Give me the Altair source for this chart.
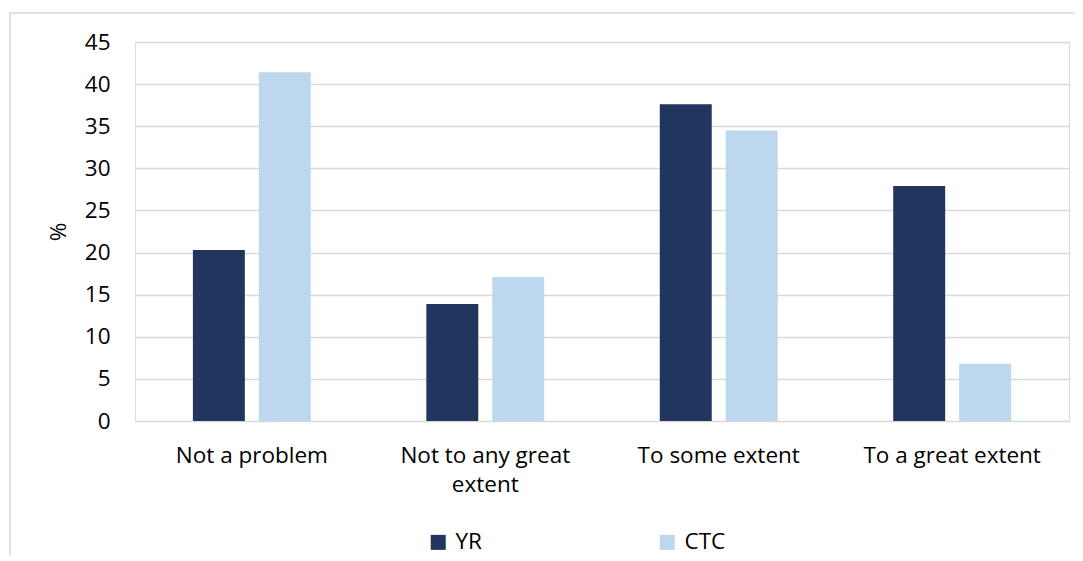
import altair as alt
import pandas as pd

categories = ["Not a problem", "Not to any great extent", "To some extent", "To a great extent"]
series = ["YR", "CTC"]
yr_values = [20.3, 13.9, 37.6, 27.9]
ctc_values = [41.4, 17.1, 34.5, 6.8]
colors = ["#22355E", "#BDD7EE"]
y_ticks = [0, 5, 10, 15, 20, 25, 30, 35, 40, 45]

rows = []
for c, a, b in zip(categories, yr_values, ctc_values):
    rows.append({"cat": c, "series": "YR", "value": a})
    rows.append({"cat": c, "series": "CTC", "value": b})
df = pd.DataFrame(rows)

FONT = "Open Sans"
FS = 22.5
W, H = 934, 379

bars = alt.Chart(df).mark_bar().encode(
    x=alt.X("cat:N", sort=categories, title=None,
            scale=alt.Scale(paddingInner=0.495, paddingOuter=0.248),
            axis=alt.Axis(labelAngle=0, labelFontSize=FS, labelColor="#000000", labelFont=FONT,
                          labelPadding=23, ticks=False, domain=False, labelLimit=300,
                          labelLineHeight=29,
                          labelExpr="datum.label == 'Not to any great extent' ? ['Not to any great', 'extent'] : datum.label")),
    xOffset=alt.XOffset("series:N", sort=series, scale=alt.Scale(paddingInner=0.212, paddingOuter=0)),
    y=alt.Y("value:Q", title="%", scale=alt.Scale(domain=[0, 45], nice=False),
            axis=alt.Axis(values=y_ticks, labelFontSize=FS, labelColor="#000000", labelFont=FONT,
                          labelPadding=25, ticks=False, domain=False, grid=True,
                          gridColor="#D9D9D9", gridWidth=1.5,
                          titleFont=FONT, titleFontSize=FS, titleFontWeight="normal",
                          titleColor="#000000", titlePadding=14)),
    color=alt.Color("series:N", sort=series, title=None,
                    scale=alt.Scale(domain=series, range=colors),
                    legend=alt.Legend(orient="none", legendX=292, legendY=489, direction="horizontal",
                                      symbolType="square", symbolSize=225, symbolStrokeWidth=0,
                                      labelFontSize=FS, labelFont=FONT, labelColor="#000000",
                                      columnPadding=174, labelOffset=6, padding=0)),
)

frame = alt.Chart(pd.DataFrame({"a": [0]})).mark_rect(
    fill=None, stroke="#D9D9D9", strokeWidth=1.5
).encode(x=alt.value(-125), x2=alt.value(960), y=alt.value(-29), y2=alt.value(540))

chart = alt.layer(frame, bars).properties(
    width=W, height=H,
    autosize=alt.AutoSizeParams(type="none"),
    padding={"left": 127, "top": 34, "right": 6, "bottom": 134},
).configure_view(stroke=None).configure(background="#FFFFFF")

chart.save("out.html", embed_options={"renderer": "svg", "actions": False})
